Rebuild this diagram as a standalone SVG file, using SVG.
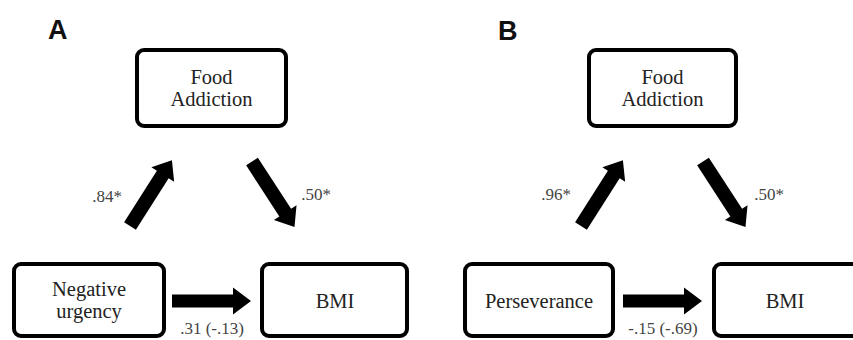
<svg xmlns="http://www.w3.org/2000/svg" width="853" height="340" viewBox="0 0 853 340">
<style>
.box{fill:#fff;stroke:#000;stroke-width:4}
.nt{font-size:20.5px;fill:#222;text-anchor:middle}
.lb{font-size:17px;fill:#444;text-anchor:middle}
.pl{font-size:27px;font-weight:bold;fill:#111}
.ar{fill:#000}
</style>
<defs>
<polygon id="diag" points="0,-7 61,-7 61,-13.5 78,0 61,13.5 61,7 0,7"/>
<polygon id="horiz" points="0,-6.5 61,-6.5 61,-13.5 79,0 61,13.5 61,6.5 0,6.5"/>
</defs>
<rect width="853" height="340" fill="#fff"/>
<g font-family="Liberation Sans, Arial, sans-serif">
<text class="pl" x="48" y="39">A</text>
<text class="pl" x="498" y="40">B</text>
</g>
<g id="connectors" font-family="Liberation Serif, Times New Roman, serif">
<use href="#diag" class="ar" transform="translate(130,226) rotate(-57.5)"/>
<use href="#diag" class="ar" transform="translate(252,161.5) rotate(57)"/>
<use href="#horiz" class="ar" transform="translate(172,301)"/>
<use href="#diag" class="ar" transform="translate(581,226) rotate(-57.5)"/>
<use href="#diag" class="ar" transform="translate(703,161.5) rotate(57)"/>
<use href="#horiz" class="ar" transform="translate(623,301)"/>
<text class="lb" x="107" y="202">.84*</text>
<text class="lb" x="316" y="200">.50*</text>
<text class="lb" x="212" y="334">.31 (-.13)</text>
<text class="lb" x="556" y="200">.96*</text>
<text class="lb" x="769" y="200">.50*</text>
<text class="lb" x="663" y="334">-.15 (-.69)</text>
</g>
<g font-family="Liberation Serif, Times New Roman, serif">
<g id="a-food">
<rect class="box" x="137" y="50" width="149" height="76" rx="7"/>
<text class="nt" x="211.5" y="84">Food</text>
<text class="nt" x="211.5" y="106">Addiction</text>
</g>
<g id="a-negative">
<rect class="box" x="14" y="264" width="150" height="72" rx="7"/>
<text class="nt" x="89" y="296">Negative</text>
<text class="nt" x="89" y="318">urgency</text>
</g>
<g id="a-bmi">
<rect class="box" x="262" y="264" width="145" height="72" rx="7"/>
<text class="nt" x="335" y="308">BMI</text>
</g>
<g id="b-food">
<rect class="box" x="589" y="50" width="147" height="76" rx="7"/>
<text class="nt" x="662.5" y="84">Food</text>
<text class="nt" x="662.5" y="106">Addiction</text>
</g>
<g id="b-perseverance">
<rect class="box" x="465" y="264" width="148" height="72" rx="7"/>
<text class="nt" x="539" y="308">Perseverance</text>
</g>
<g id="b-bmi">
<rect class="box" x="714" y="264" width="160" height="72" rx="7"/>
<text class="nt" x="785" y="308">BMI</text>
</g>
</g>
</svg>
